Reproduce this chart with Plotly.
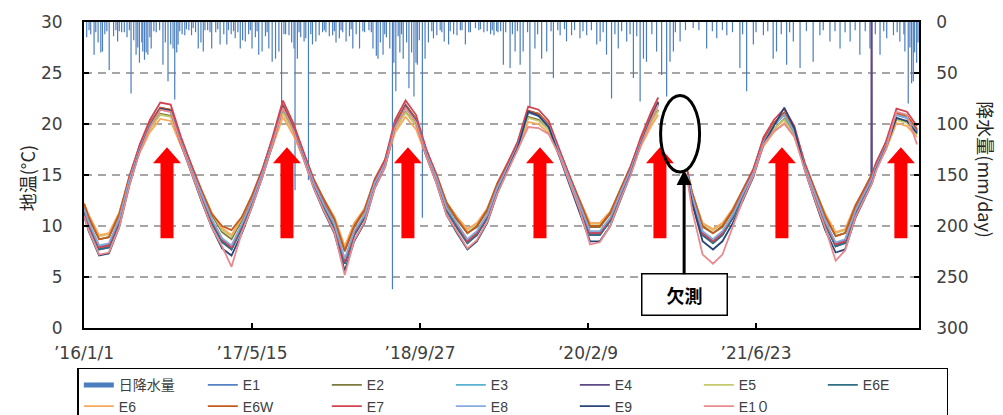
import pandas as pd
import plotly.graph_objects as go

# ---------------- data ----------------
dates = [
    "2016-01-01", "2016-01-15", "2016-02-15", "2016-03-15", "2016-04-15", "2016-05-15", "2016-06-15",
    "2016-07-15", "2016-08-15", "2016-09-15", "2016-10-15", "2016-11-15", "2016-12-15",
    "2017-01-15", "2017-02-15", "2017-03-15", "2017-04-15", "2017-05-15", "2017-06-15",
    "2017-07-15", "2017-08-15", "2017-09-15", "2017-10-15", "2017-11-15", "2017-12-15",
    "2018-01-15", "2018-02-15", "2018-03-15", "2018-04-15", "2018-05-15", "2018-06-15",
    "2018-07-15", "2018-08-15", "2018-09-15", "2018-10-15", "2018-11-15", "2018-12-15",
    "2019-01-15", "2019-02-15", "2019-03-15", "2019-04-15", "2019-05-15", "2019-06-15",
    "2019-07-15", "2019-08-15", "2019-09-15", "2019-10-15", "2019-11-15", "2019-12-15",
    "2020-01-15", "2020-02-15", "2020-03-15", "2020-04-15", "2020-05-15", "2020-06-15",
    "2020-07-15", "2020-08-15", "2020-09-05", "2020-10-15", "2020-12-01", "2020-12-15",
    "2021-01-15", "2021-02-15", "2021-03-15", "2021-04-15", "2021-05-15", "2021-06-15",
    "2021-07-15", "2021-08-15", "2021-09-15", "2021-10-15", "2021-11-15", "2021-12-15",
    "2022-01-15", "2022-02-15", "2022-03-15", "2022-04-15", "2022-05-15", "2022-06-01",
    "2022-06-02", "2022-06-03", "2022-06-15", "2022-07-15", "2022-08-15", "2022-09-15", "2022-10-15",
]

E1 = [11.7, 10.3, 8.0, 8.2, 10.6, 14.5, 17.7, 20.0, 21.5, 21.3, 18.4, 15.7, 13.1,
      10.6, 8.7, 8.0, 10.1, 12.5, 15.2, 18.3, 21.7, 19.6, 16.9, 14.2, 12.1,
      10.1, 6.6, 9.4, 11.0, 14.2, 16.2, 20.0, 21.7, 20.4, 17.2, 14.7, 11.8,
      10.1, 8.6, 9.4, 11.0, 13.8, 15.9, 18.0, 21.2, 20.9, 19.9, 17.2, 14.7,
      12.1, 9.4, 9.4, 10.7, 13.1, 15.6, 18.3, 20.7, 22.1, None, 15.0, 12.8,
      9.4, 8.6, 9.4, 11.0, 13.1, 15.2, 18.3, 20.0, 21.0, 19.3, 15.9, 13.1,
      10.4, 8.3, 8.6, 11.5, 13.5, 14.6, 14.7, 14.7, 15.9, 18.0, 21.0, 20.7, 19.3]
E2 = [12.0, 10.8, 8.7, 8.9, 11.1, 14.6, 17.5, 19.5, 21.0, 20.8, 18.1, 15.6, 13.4,
      11.1, 9.4, 8.7, 10.6, 12.8, 15.3, 18.0, 21.2, 19.3, 16.8, 14.3, 12.4,
      10.6, 7.5, 9.9, 11.5, 14.3, 16.1, 19.5, 21.2, 19.9, 17.1, 14.8, 12.1,
      10.6, 9.3, 9.9, 11.5, 13.9, 15.8, 17.7, 20.7, 20.4, 19.4, 17.1, 14.8,
      12.4, 9.9, 9.9, 11.2, 13.4, 15.6, 18.0, 20.2, 21.4, None, 15.1, 13.1,
      9.9, 9.3, 9.9, 11.5, 13.4, 15.3, 18.0, 19.5, 20.5, 19.0, 15.8, 13.4,
      10.9, 9.0, 9.3, 11.8, 13.6, 14.7, 14.8, 14.8, 15.8, 17.7, 20.5, 20.2, 19.0]
E3 = [11.5, 10.2, 7.8, 8.0, 10.5, 14.4, 17.6, 19.9, 21.5, 21.3, 18.3, 15.6, 13.0,
      10.5, 8.6, 7.8, 9.9, 12.4, 15.1, 18.2, 21.7, 19.6, 16.8, 14.1, 12.0,
      9.9, 6.4, 9.2, 10.9, 14.1, 16.1, 19.9, 21.7, 20.3, 17.2, 14.6, 11.6,
      9.9, 8.5, 9.2, 10.9, 13.7, 15.8, 17.9, 21.2, 20.9, 19.8, 17.2, 14.6,
      12.0, 9.2, 9.2, 10.6, 13.0, 15.5, 18.2, 20.7, 22.0, None, 14.9, 12.7,
      9.2, 8.5, 9.2, 10.9, 13.0, 15.1, 18.2, 19.9, 21.0, 19.3, 15.8, 13.0,
      10.3, 8.1, 8.5, 11.3, 13.3, 14.5, 14.6, 14.6, 15.8, 17.9, 21.0, 20.7, 19.3]
E4 = [11.5, 10.1, 7.7, 7.9, 10.4, 14.4, 17.6, 20.0, 21.6, 21.4, 18.4, 15.6, 13.0,
      10.4, 8.5, 7.7, 9.9, 12.4, 15.2, 18.3, 21.9, 19.7, 16.9, 14.1, 11.9,
      9.9, 6.3, 9.1, 10.8, 14.1, 16.1, 20.0, 21.9, 20.5, 17.2, 14.6, 11.6,
      9.9, 8.4, 9.1, 10.8, 13.6, 15.8, 18.0, 21.3, 21.0, 19.9, 17.2, 14.6,
      11.9, 9.1, 9.1, 10.5, 13.0, 15.5, 18.3, 20.8, 22.2, None, 14.9, 12.7,
      9.1, 8.4, 9.1, 10.8, 13.0, 15.2, 18.3, 20.0, 21.1, 19.4, 15.8, 13.0,
      10.2, 8.0, 8.4, 11.3, 13.3, 14.5, 45.0, 14.6, 15.8, 18.0, 21.1, 20.8, 19.4]
E5 = [12.2, 11.0, 9.0, 9.2, 11.3, 14.7, 17.5, 19.5, 20.9, 20.7, 18.1, 15.7, 13.5,
      11.3, 9.6, 9.0, 10.8, 13.0, 15.3, 18.0, 21.1, 19.2, 16.8, 14.4, 12.6,
      10.8, 7.8, 10.2, 11.7, 14.4, 16.2, 19.5, 21.1, 19.9, 17.1, 14.9, 12.3,
      10.8, 9.6, 10.2, 11.7, 14.1, 15.9, 17.7, 20.6, 20.3, 19.4, 17.1, 14.9,
      12.6, 10.2, 10.2, 11.4, 13.5, 15.6, 18.0, 20.1, 21.3, None, 15.2, 13.2,
      10.2, 9.6, 10.2, 11.7, 13.5, 15.3, 18.0, 19.5, 20.4, 18.9, 15.9, 13.5,
      11.1, 9.3, 9.6, 12.0, 13.8, 14.8, 14.9, 14.9, 15.9, 17.7, 20.4, 20.1, 18.9]
E6E = [11.4, 10.0, 7.7, 7.9, 10.3, 14.3, 17.5, 19.9, 21.5, 21.3, 18.3, 15.5, 12.9,
       10.3, 8.4, 7.7, 9.8, 12.3, 15.1, 18.2, 21.7, 19.5, 16.8, 14.0, 11.8,
       9.8, 6.3, 9.1, 10.8, 14.0, 16.0, 19.9, 21.7, 20.3, 17.1, 14.5, 11.5,
       9.8, 8.3, 9.1, 10.8, 13.6, 15.7, 17.8, 21.2, 20.8, 19.8, 17.1, 14.5,
       11.8, 9.1, 9.1, 10.5, 12.9, 15.4, 18.2, 20.6, 22.0, None, 14.8, 12.6,
       9.1, 8.3, 9.1, 10.8, 12.9, 15.1, 18.2, 19.9, 20.9, 19.2, 15.7, 12.9,
       10.1, 8.0, 8.3, 11.2, 13.2, 14.4, 14.5, 14.5, 15.7, 17.8, 20.9, 20.6, 19.2]
E6 = [12.2, 11.1, 9.1, 9.3, 11.3, 14.6, 17.2, 19.2, 20.5, 20.3, 17.9, 15.6, 13.5,
      11.3, 9.8, 9.1, 10.9, 12.9, 15.2, 17.8, 20.7, 18.9, 16.6, 14.3, 12.6,
      10.9, 8.0, 10.3, 11.7, 14.3, 16.0, 19.2, 20.7, 19.5, 16.9, 14.8, 12.3,
      10.9, 9.7, 10.3, 11.7, 14.0, 15.7, 17.5, 20.2, 20.0, 19.1, 16.9, 14.8,
      12.6, 10.3, 10.3, 11.4, 13.5, 15.5, 17.8, 19.8, 20.9, None, 15.0, 13.2,
      10.3, 9.7, 10.3, 11.7, 13.5, 15.2, 17.8, 19.2, 20.1, 18.7, 15.7, 13.5,
      11.2, 9.4, 9.7, 12.1, 13.7, 14.7, 14.8, 14.8, 15.7, 17.5, 20.1, 19.8, 18.7]
E6W = [12.2, 10.9, 8.7, 8.9, 11.2, 14.9, 17.9, 20.1, 21.6, 21.4, 18.6, 16.0, 13.6,
       11.2, 10.0, 9.6, 10.9, 13.0, 15.6, 18.5, 21.8, 19.8, 17.2, 14.6, 12.6,
       10.7, 7.6, 10.0, 11.6, 14.6, 16.5, 20.1, 21.8, 20.5, 17.5, 15.1, 12.3,
       10.7, 9.3, 10.0, 11.6, 14.2, 16.2, 18.2, 21.3, 21.0, 20.0, 17.5, 15.1,
       12.6, 10.0, 10.0, 11.3, 13.6, 15.9, 18.5, 20.8, 22.1, None, 15.4, 13.3,
       10.0, 9.3, 10.0, 11.6, 13.6, 15.6, 18.5, 20.1, 21.1, 19.5, 16.2, 13.6,
       11.0, 9.0, 9.3, 12.0, 13.9, 15.0, 15.1, 15.1, 16.2, 18.2, 21.1, 20.8, 19.5]
E7 = [11.7, 10.3, 7.9, 8.1, 10.6, 14.7, 18.0, 20.4, 22.1, 21.9, 18.8, 15.9, 13.3,
      10.6, 8.7, 7.9, 10.1, 12.6, 15.5, 18.7, 22.3, 20.1, 17.2, 14.4, 12.2,
      10.1, 6.5, 9.3, 11.1, 14.4, 16.5, 20.4, 22.3, 20.9, 17.6, 14.9, 11.8,
      10.1, 8.5, 9.3, 11.1, 13.9, 16.1, 18.3, 21.7, 21.4, 20.3, 17.6, 14.9,
      12.2, 9.3, 9.3, 10.7, 13.3, 15.8, 18.7, 21.2, 22.6, None, 15.3, 12.9,
      9.3, 8.5, 9.3, 11.1, 13.3, 15.5, 18.7, 20.4, 21.5, 19.8, 16.1, 13.3,
      10.4, 8.2, 8.5, 11.5, 13.6, 14.8, 14.9, 14.9, 16.1, 18.3, 21.5, 21.2, 19.8]
E8 = [11.7, 10.4, 8.1, 8.3, 10.7, 14.5, 17.6, 19.9, 21.4, 21.2, 18.3, 15.6, 13.2,
      10.7, 8.8, 8.1, 10.2, 12.5, 15.2, 18.2, 21.6, 19.5, 16.9, 14.2, 12.1,
      10.2, 6.8, 9.5, 11.1, 14.2, 16.1, 19.9, 21.6, 20.3, 17.2, 14.7, 11.8,
      10.2, 8.7, 9.5, 11.1, 13.8, 15.8, 17.9, 21.1, 20.8, 19.8, 17.2, 14.7,
      12.1, 9.5, 9.5, 10.8, 13.2, 15.5, 18.2, 20.6, 21.9, None, 15.0, 12.9,
      9.5, 8.7, 9.5, 11.1, 13.2, 15.2, 18.2, 19.9, 20.9, 19.2, 15.8, 13.2,
      10.5, 8.4, 8.7, 11.5, 13.5, 14.6, 14.7, 14.7, 15.8, 17.9, 20.9, 20.6, 19.2]
E9 = [11.0, 9.5, 7.1, 7.3, 9.9, 14.0, 17.4, 19.8, 21.5, 21.3, 18.1, 15.2, 12.5,
      9.9, 7.8, 7.1, 9.3, 11.9, 14.8, 18.0, 21.7, 19.5, 16.6, 13.7, 11.4,
      9.3, 5.6, 8.5, 10.3, 13.7, 15.8, 19.8, 21.7, 20.3, 16.9, 14.2, 11.1,
      9.3, 7.7, 8.5, 10.3, 13.2, 15.5, 17.7, 21.2, 20.8, 19.7, 16.9, 14.2,
      11.4, 8.5, 8.5, 10.0, 12.5, 15.1, 18.0, 20.6, 22.1, None, 14.6, 12.2,
      8.5, 7.7, 8.5, 10.3, 12.5, 14.8, 18.0, 19.8, 21.6, 19.6, 15.5, 12.5,
      9.6, 7.4, 7.7, 10.8, 12.9, 14.1, 14.2, 14.2, 15.5, 17.7, 20.6, 20.3, 19.1]
E10 = [11.0, 9.6, 7.2, 7.4, 9.9, 14.0, 17.3, 19.7, 21.4, 21.2, 18.1, 15.2, 12.6,
       9.9, 8.0, 6.0, 9.4, 11.9, 14.8, 18.0, 21.6, 19.4, 16.5, 13.7, 11.5,
       9.4, 5.2, 8.6, 10.4, 13.7, 15.8, 19.7, 21.6, 20.2, 16.9, 14.2, 11.1,
       9.4, 7.8, 8.6, 10.4, 13.2, 15.4, 17.6, 19.7, 19.6, 19.0, 17.0, 14.3,
       11.6, 8.2, 8.4, 10.0, 12.6, 15.0, 17.9, 20.4, 21.9, None, 14.5, 11.5,
       7.2, 6.3, 7.2, 10.0, 12.6, 14.9, 18.0, 19.3, 20.0, 18.8, 15.5, 12.6,
       9.8, 6.6, 7.6, 10.9, 13.0, 14.1, 14.2, 14.2, 15.4, 17.6, 21.2, 20.9, 18.0]

series_names = ["E1", "E2", "E3", "E4", "E5", "E6E", "E6", "E6W", "E7", "E8", "E9", "E1０"]
series_values = [E1, E2, E3, E4, E5, E6E, E6, E6W, E7, E8, E9, E10]
series_colors = ["#5580C4", "#7C7A3C", "#57B2D0", "#5C4A86", "#C6CA6C", "#2F6F86",
                 "#F7A95E", "#C65A1E", "#D2434F", "#86AADB", "#2A4677", "#E88A8E"]

# daily precipitation: day index counted from 2016-01-01, amount in mm/day
rain_day = [8, 15, 20, 30, 35, 42, 50, 55, 62, 68, 75, 88, 95, 100, 105, 112, 120, 128, 135, 140,
            148, 155, 160, 165, 172, 175, 180, 185, 190, 196, 200, 208, 215, 225, 235, 242, 250, 258,
            265, 270, 276, 280, 285, 292, 300, 305, 312, 320, 325, 332, 340, 348, 355, 360, 368, 375,
            380, 392, 398, 405, 416, 425, 430, 438, 445, 450, 458, 465, 472, 480, 490, 495, 500, 510,
            515, 520, 530, 540, 545, 550, 560, 570, 580, 588, 595, 600, 610, 618, 625, 628, 635, 640,
            645, 655, 660, 668, 675, 680, 690, 700, 710, 715, 720, 730, 740, 745, 750, 760, 765, 770,
            780, 790, 795, 800, 810, 820, 830, 835, 848, 855, 860, 870, 875, 882, 890, 895, 900, 910,
            918, 922, 928, 935, 940, 945, 950, 960, 967, 975, 982, 988, 992, 998, 1007, 1015, 1025,
            1035, 1040, 1050, 1060, 1065, 1072, 1085, 1090, 1100, 1110, 1120, 1125, 1135, 1145, 1150,
            1165, 1175, 1180, 1190, 1200, 1210, 1215, 1220, 1228, 1232, 1240,
            1248, 1255, 1268, 1275, 1283, 1290, 1298, 1307, 1320, 1327, 1342, 1350, 1362, 1377, 1390,
            1397, 1410, 1417, 1430, 1436, 1451, 1460, 1476, 1485, 1496, 1510, 1526, 1536, 1545, 1555,
            1570, 1580, 1590, 1600, 1615, 1625, 1635, 1645, 1655, 1665, 1674, 1690, 1704, 1719, 1734,
            1744, 1754, 1760, 1774, 1790, 1813, 1830, 1853, 1870, 1883, 1900, 1913, 1930, 1952, 1960,
            1972, 1992, 2000, 2022, 2035, 2051, 2061, 2075, 2091, 2100, 2111, 2131, 2150, 2170, 2190,
            2200, 2220, 2235, 2250, 2265, 2280, 2295, 2309, 2325, 2339, 2355, 2369, 2380, 2389, 2409,
            2420, 2428, 2440, 2443, 2453, 2458, 2463, 2468, 2472, 2478, 2482]
rain_mm = [15, 8, 12, 32, 10, 20, 30, 29, 12, 9, 47, 14, 8, 19, 9, 10, 10, 15, 8, 70,
           18, 32, 25, 40, 20, 29, 37, 30, 32, 15, 26, 9, 10, 8, 42, 20, 58, 22,
           26, 76, 30, 22, 9, 12, 13, 7, 8, 13, 6, 10, 26, 20, 29, 8, 8, 10,
           26, 10, 7, 22, 12, 22, 8, 12, 9, 16, 10, 26, 18, 19, 12, 8, 26, 15,
           9, 32, 29, 14, 10, 26, 39, 36, 29, 86, 12, 12, 13, 20, 26, 165, 36, 10,
           15, 19, 16, 155, 12, 22, 19, 13, 10, 8, 10, 14, 13, 9, 20, 16, 8, 10,
           19, 14, 7, 26, 12, 26, 9, 10, 8, 10, 26, 33, 36, 20, 32, 12, 15, 26,
           262, 40, 68, 14, 30, 12, 36, 20, 65, 30, 73, 40, 42, 18, 192, 36, 20,
           9, 16, 13, 8, 10, 19, 22, 9, 12, 13, 8, 8, 22, 10, 10,
           6, 8, 7, 10, 9, 12, 8, 13, 9, 10, 9,
           42, 10, 45, 12, 29, 9, 42, 29, 10, 83, 26, 12, 36, 29, 9,
           55, 8, 13, 7, 19, 13, 8, 16, 9, 13, 8, 22, 19, 10, 32,
           75, 12, 26, 9, 19, 12, 55, 14, 78, 36, 39, 12, 29, 52, 73,
           39, 29, 10, 19, 8, 6, 8, 26, 9, 16, 8, 13, 10, 45, 12,
           68, 22, 10, 13, 9, 36, 29, 12, 42, 10, 19, 45, 9, 39, 13,
           8, 19, 9, 26, 10, 19, 8, 32, 9, 26, 12, 32, 9, 16, 13,
           10, 19, 12, 29, 80, 25, 60, 58, 30, 40, 20]

x_start = "2016-01-01"
x_end = "2022-10-21"
tick_dates = ["2016-01-01", "2017-05-15", "2018-09-27", "2020-02-09", "2021-06-23"]
tick_labels = ["’16/1/1", "’17/5/15", "’18/9/27", "’20/2/9", "’21/6/23"]
temp_ticks = [0, 5, 10, 15, 20, 25, 30]
rain_ticks = [0, 50, 100, 150, 200, 250, 300]

# peaks marked with red arrows, and the missing-data note
arrow_dates = ["2016-09-04", "2017-08-27", "2018-08-22", "2019-09-19", "2020-09-10", "2021-09-08", "2022-08-28"]
arrow_base_temp = 8.8
missing_ellipse_x = ["2020-09-12", "2021-01-06"]
missing_ellipse_y = [15.3, 22.8]
missing_arrow_x = "2020-11-21"
missing_arrow_y = 15.5

assert len(rain_day) == len(rain_mm)
for v in series_values:
    assert len(v) == len(dates)

# ---------------- figure ----------------
RAIN_COLOR = "#4B7EBE"
TXT = "#404040"
NUM_FONT = "DejaVu Sans, sans-serif"
JP_FONT = "Noto Sans CJK JP, sans-serif"

origin = pd.Timestamp(x_start)
rx, ry = [], []
for d, mm in zip(rain_day, rain_mm):
    t = origin + pd.Timedelta(days=d)
    rx += [t, t, None]
    ry += [0, mm, None]

fig = go.Figure()
fig.add_trace(go.Scatter(x=rx, y=ry, mode="lines", yaxis="y", showlegend=False,
                         line=dict(color=RAIN_COLOR, width=1.2), hoverinfo="skip"))
fig.add_trace(go.Scatter(x=[None], y=[None], mode="lines", yaxis="y", name="日降水量",
                         line=dict(color=RAIN_COLOR, width=5)))
for name, vals, col in zip(series_names, series_values, series_colors):
    fig.add_trace(go.Scatter(x=dates, y=vals, mode="lines", name=name, yaxis="y2",
                             line=dict(color=col, width=1.8)))

shapes = []
arrow_path = "M -6.5,0 L 6.5,0 L 6.5,75 L 14,75 L 0,91 L -14,75 L -6.5,75 Z"
for d in arrow_dates:
    shapes.append(dict(type="path", xref="x", yref="y2", xsizemode="pixel", ysizemode="pixel",
                       xanchor=d, yanchor=arrow_base_temp, path=arrow_path,
                       fillcolor="#FF0000", line=dict(width=0), layer="above"))
shapes.append(dict(type="circle", xref="x", yref="y2",
                   x0=missing_ellipse_x[0], x1=missing_ellipse_x[1],
                   y0=missing_ellipse_y[0], y1=missing_ellipse_y[1],
                   line=dict(color="black", width=3), layer="above"))

annotations = [
    dict(text="地温(°C)", xref="paper", yref="paper", x=-0.068, y=0.49, showarrow=False,
         textangle=-90, font=dict(family=JP_FONT, size=18, color="#262626"),
         xanchor="center", yanchor="middle"),
    dict(text="降水量(mm/day)", xref="paper", yref="paper", x=1.080, y=0.516, showarrow=False,
         textangle=90, font=dict(family=JP_FONT, size=18, color="#262626"),
         xanchor="center", yanchor="middle"),
    dict(text="<b>欠測</b>", xref="x", yref="y2", x=missing_arrow_x, y=missing_arrow_y,
         ax=0, ay=125, showarrow=True, arrowhead=2, arrowsize=1, arrowwidth=3, arrowcolor="black",
         font=dict(family=JP_FONT, size=18, color="black"), bgcolor="white",
         bordercolor="black", borderwidth=1.5, borderpad=6, width=72, height=28),
]

axis_common = dict(ticks="inside", ticklen=5, tickwidth=1.5, tickcolor="black",
                   showline=True, linecolor="black", zeroline=False)

fig.update_layout(
    width=1003, height=415,
    margin=dict(l=84, r=84, t=22, b=87, autoexpand=False),
    paper_bgcolor="white", plot_bgcolor="white",
    showlegend=True,
    xaxis=dict(type="date", range=[x_start, x_end], tickvals=tick_dates, ticktext=tick_labels,
               showgrid=False, mirror=True, linewidth=2, ticklabelstandoff=9,
               tickfont=dict(family=NUM_FONT, size=17, color=TXT), **axis_common),
    yaxis=dict(range=[300, 0], side="right", tickvals=rain_ticks, showgrid=True,
               gridcolor="#A6A6A6", griddash="8px,6px", gridwidth=1.5, linewidth=1.5,
               ticklabelstandoff=12,
               tickfont=dict(family=NUM_FONT, size=17, color=TXT), **axis_common),
    yaxis2=dict(range=[0, 30], side="left", overlaying="y", tickvals=temp_ticks, showgrid=False,
                linewidth=2, ticklabelstandoff=16,
                tickfont=dict(family=NUM_FONT, size=17, color=TXT), **axis_common),
    legend=dict(orientation="h", x=-0.008, xanchor="left", y=-0.13, yanchor="top",
                entrywidth=79, entrywidthmode="pixels", bgcolor="white",
                bordercolor="black", borderwidth=1.5, tracegroupgap=0,
                font=dict(family="Liberation Sans, Noto Sans CJK JP, sans-serif", size=14, color=TXT)),
    shapes=shapes,
    annotations=annotations,
)

fig.write_html("out.html", config={"displayModeBar": False},
               post_script="document.body.style.margin='0px';")
